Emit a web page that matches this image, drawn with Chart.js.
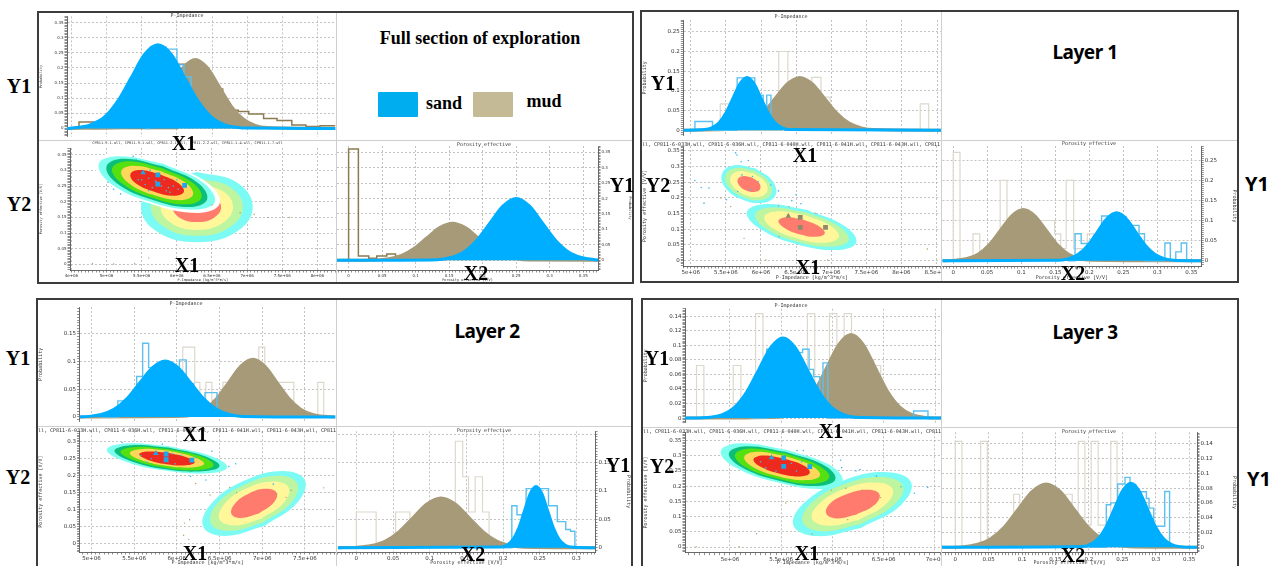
<!DOCTYPE html>
<html>
<head>
<meta charset="utf-8">
<script src="https://cdn.jsdelivr.net/npm/chart.js@4"></script>
<style>
html, body { margin: 0; background: #fff; overflow: hidden; }
#page { position: relative; width: 1274px; height: 566px; overflow: hidden; }
.cell { position: absolute; }
.frame { position: absolute; border: 2px solid #3c3c3c; box-sizing: border-box; }
.rule { position: absolute; background: #cfcfcf; }
.txt { position: absolute; transform: translate(-50%, -50%); white-space: nowrap; color: #000; z-index: 5; }
.serif { font: bold 20px "Liberation Serif", serif; }
.sans { font: bold 20px "Noto Sans", sans-serif; }
.head { font: bold 18px "Liberation Serif", serif; }
.layer { font: bold 19px "Noto Sans", sans-serif; letter-spacing: -0.5px; }
.tiny { font: 5px "DejaVu Sans Mono", monospace; color: #333; z-index: 4; }
.wells { position: absolute; overflow: hidden; white-space: nowrap; text-align: center; color: #333; font: 5px "DejaVu Sans Mono", monospace; z-index: 4; }
.swatch { position: absolute; border-radius: 1px; }
</style>
</head>
<body>
<div id="page"></div>
<script>
// Impedance x values are in units of 1e6, as the tick labels show them

// ---- Full section ----
const fullImpSand = [[4.44,0],[4.58,.003],[4.77,.012],[4.97,.037],[5.16,.09],[5.35,.167],[5.54,.244],[5.73,.276],[5.92,.244],[6.11,.167],[6.3,.09],[6.49,.037],[6.68,.012],[6.87,.003],[7,.001],[8.25,0]];
const fullImpMud = [[4.44,0],[5.24,.003],[5.41,.01],[5.58,.031],[5.75,.074],[5.92,.138],[6.09,.201],[6.26,.228],[6.43,.201],[6.6,.138],[6.77,.074],[6.94,.031],[7.11,.01],[7.28,.003],[8.25,0]];
const fullImpSandBars = [[5.55,0],[5.62,.268],[5.85,.262],[6,.21],[6.1,.17],[6.2,0]];
const fullImpMudBars = [[4.44,0],[4.61,.0215],[4.82,0],[6.01,.212],[6.22,.2],[6.43,.13],[6.65,.06],[6.87,.056],[7.02,.048],[7.23,.033],[7.42,.026],[7.63,.011],[7.83,.0065],[8.03,.009],[8.25,.009]];
const fullPorSand = [[-.0188,0],[.133,.002],[.1525,.009],[.172,.027],[.1915,.065],[.211,.121],[.2305,.176],[.25,.2],[.2695,.176],[.289,.121],[.3085,.065],[.328,.027],[.3475,.009],[.367,.002],[.372,.001]];
const fullPorMud = [[-.0188,0],[.041,.001],[.06,.005],[.079,.016],[.098,.039],[.117,.073],[.136,.106],[.155,.12],[.174,.106],[.193,.073],[.212,.039],[.231,.016],[.25,.005],[.269,.001],[.372,0]];
const fullPorSandBars = [];
const fullPorMudBars = [[-.0188,0],[0,.36],[.0146,.014],[.03,.007],[.042,.014],[.057,.02],[.07,.012],[.085,0]];
const fullSandContours = [
  [[5.81,.321],[6.38,.26],[6.54,.199],[6.25,.175],[5.63,.199],[5.05,.26],[4.89,.321],[5.18,.345]],
  [[5.8,.313],[6.3,.26],[6.43,.207],[6.18,.183],[5.64,.207],[5.14,.26],[5,.313],[5.25,.337]],
  [[5.79,.307],[6.23,.26],[6.35,.213],[6.13,.192],[5.65,.213],[5.21,.26],[5.08,.307],[5.31,.329]],
  [[5.77,.298],[6.13,.26],[6.23,.222],[6.05,.205],[5.66,.222],[5.31,.26],[5.21,.298],[5.39,.315]],
  [[5.76,.288],[6.02,.26],[6.1,.232],[5.96,.219],[5.68,.232],[5.41,.26],[5.34,.288],[5.47,.301]]
];
const fullSandHalo = [[5.81,.326],[6.44,.26],[6.61,.194],[6.3,.164],[5.62,.194],[5,.26],[4.83,.326],[5.14,.356]];
const fullMudContours = [
  [[6.29,.295],[6.85,.262],[7.08,.183],[6.85,.104],[6.29,.071],[5.72,.104],[5.49,.183],[5.72,.262]],
  [[6.29,.275],[6.75,.248],[6.94,.183],[6.75,.118],[6.29,.091],[5.83,.118],[5.63,.183],[5.83,.248]],
  [[6.29,.256],[6.65,.234],[6.8,.183],[6.65,.132],[6.29,.11],[5.92,.132],[5.77,.183],[5.92,.234]],
  [[6.29,.231],[6.53,.217],[6.63,.183],[6.53,.149],[6.29,.135],[6.04,.149],[5.94,.183],[6.04,.217]]
];
const fullSandMarkers = [[5.73,.286],[5.73,.256],[6.11,.252]];
const fullSandTriangles = [[5.52,.293]];
const fullMudMarkers = [];
const fullMudTriangles = [];
const fullSandDots = [[5.38,.345],[5.42,.335],[5.1,.24],[5.2,.225],[5.02,.262],[5.62,.3],[5.45,.27],[5.9,.23],[6.0,.27],[5.5,.27],[5.55,.255],[5.6,.275],[5.65,.245],[5.7,.265],[5.78,.25],[5.82,.27],[5.88,.245],[5.95,.25],[6.02,.24],[5.6,.235],[5.85,.235]];
const fullMudDots = [[6.5,.19],[6.9,.165],[7.1,.16],[7.3,.15],[7.6,.15],[6.2,.001],[5.4,.002],[4.8,.002],[5.6,.02],[5.3,.15],[5.1,.001],[7.0,.02]];

// ---- Layer 1 ----
const layer1ImpSand = [[4.895,0],[5.2,.0015],[5.3,.006],[5.4,.018],[5.5,.0435],[5.6,.081],[5.7,.118],[5.8,.134],[5.9,.118],[6,.081],[6.1,.0435],[6.2,.018],[6.3,.006],[6.4,.0015],[8.555,0]];
const layer1ImpMud = [[4.895,0],[5.5,.0015],[5.675,.006],[5.85,.018],[6.025,.0435],[6.2,.081],[6.375,.118],[6.55,.134],[6.725,.118],[6.9,.081],[7.075,.0435],[7.25,.018],[7.425,.006],[7.6,.0015],[8.555,0]];
const layer1ImpSandBars = [[4.9,0],[5.06,.022],[5.31,0],[5.66,.133],[5.91,.08],[5.99,.089],[6.03,.02],[6.08,.089],[6.14,0]];
const layer1ImpMudBars = [[4.9,0],[5.42,.067],[5.57,0],[6.25,.2],[6.38,.067],[6.72,.134],[6.85,.084],[6.98,0],[8.26,.067],[8.38,0]];
const layer1PorSand = [[-.017,0],[.156,.0013],[.17,.0052],[.184,.016],[.198,.0386],[.212,.072],[.226,.105],[.24,.119],[.254,.105],[.268,.072],[.282,.0386],[.296,.016],[.31,.0052],[.324,.0013],[.3645,0]];
const layer1PorMud = [[-.017,0],[.004,.0014],[.0205,.0056],[.037,.017],[.0535,.041],[.07,.077],[.0865,.112],[.103,.127],[.1195,.112],[.136,.077],[.1525,.041],[.169,.017],[.1855,.0056],[.202,.0014],[.3645,0]];
const layer1PorSandBars = [[.168,0],[.179,.067],[.188,.043],[.197,.02],[.218,.111],[.228,.11],[.254,.088],[.273,.067],[.281,0],[.311,.044],[.319,0],[.327,.022],[.335,.044],[.343,0]];
const layer1PorMudBars = [[-.01,0],[0,.269],[.01,0],[.029,.067],[.039,0],[.069,.2],[.079,.1],[.149,.067],[.158,.03],[.166,.2],[.177,.03],[.197,.067],[.206,0]];
const layer1SandContours = [
  [[5.92,.294],[6.16,.255],[6.21,.209],[6.03,.184],[5.74,.194],[5.49,.233],[5.45,.279],[5.62,.304]],
  [[5.91,.287],[6.11,.253],[6.15,.214],[6,.193],[5.75,.202],[5.54,.235],[5.5,.274],[5.65,.295]],
  [[5.89,.278],[6.06,.251],[6.09,.22],[5.97,.203],[5.77,.21],[5.6,.237],[5.57,.268],[5.69,.285]],
  [[5.87,.265],[5.97,.249],[5.99,.229],[5.92,.219],[5.79,.223],[5.69,.24],[5.67,.259],[5.74,.269]]
];
const layer1MudContours = [
  [[6.65,.162],[7.18,.112],[7.36,.059],[7.09,.034],[6.51,.052],[5.98,.102],[5.8,.155],[6.08,.18]],
  [[6.64,.154],[7.09,.112],[7.25,.066],[7.01,.045],[6.52,.06],[6.07,.102],[5.92,.148],[6.15,.169]],
  [[6.63,.145],[6.99,.111],[7.11,.075],[6.92,.057],[6.54,.069],[6.17,.103],[6.05,.14],[6.24,.157]],
  [[6.61,.13],[6.83,.109],[6.91,.087],[6.79,.076],[6.55,.084],[6.33,.105],[6.25,.127],[6.37,.138]]
];
const layer1SandMarkers = [];
const layer1SandTriangles = [];
const layer1MudMarkers = [[6.56,.138],[6.56,.106],[6.92,.106]];
const layer1MudTriangles = [[6.39,.142]];
const layer1SandDots = [[5.64,.343],[5.66,.336],[5.72,.315],[5.82,.319],[5.06,.255],[5.15,.233],[5.26,.231],[5.19,.183],[5.51,.194],[6.25,.222],[6.44,.191],[6.5,.21],[6.57,.181],[6.14,.241],[5.73,.273],[5.88,.268],[5.96,.252],[5.85,.226],[5.67,.22]];
const layer1MudDots = [[5.43,.199],[5.57,.172],[5.76,.071],[6.26,.077],[6.4,.172],[8.37,.037],[6.07,.002],[6.95,.002],[6.77,.151],[6.25,.174]];

// ---- Layer 2 ----
const layer2ImpSand = [[4.862,0],[4.965,.0011],[5.115,.0044],[5.265,.0137],[5.415,.0328],[5.565,.0613],[5.715,.0891],[5.865,.101],[6.015,.0891],[6.165,.0613],[6.315,.0328],[6.465,.0137],[6.615,.0044],[6.765,.0011],[7.858,0]];
const layer2ImpMud = [[4.862,0],[6.05,.0012],[6.19,.0046],[6.33,.0141],[6.47,.0338],[6.61,.0631],[6.75,.0918],[6.89,.104],[7.03,.0918],[7.17,.0631],[7.31,.0338],[7.45,.0141],[7.59,.0046],[7.73,.0012],[7.858,0]];
const layer2ImpSandBars = [[5.1,0],[5.31,.029],[5.39,.03],[5.53,.073],[5.6,.133],[5.67,.089],[5.82,.08],[6.03,.103],[6.11,.06],[6.2,.03],[6.33,.044],[6.47,0]];
const layer2ImpMudBars = [[5.9,0],[6.07,.126],[6.21,.0625],[6.27,.03],[6.34,.0625],[6.41,.03],[6.54,.0625],[6.96,.126],[7.03,.0625],[7.37,0],[7.65,.0625],[7.72,0]];
const layer2PorSand = [[-.0265,0],[.198,.0012],[.2059,.0047],[.2137,.0146],[.2216,.035],[.2294,.0655],[.2372,.0953],[.245,.108],[.2529,.0953],[.2607,.0655],[.2686,.035],[.2764,.0146],[.2843,.0047],[.292,.0012],[.3254,0]];
const layer2PorMud = [[-.0265,0],[.0015,.001],[.0205,.0039],[.0395,.0119],[.0585,.0285],[.0775,.0532],[.0965,.0774],[.1155,.0877],[.1345,.0774],[.1535,.0532],[.1725,.0285],[.1915,.0119],[.2105,.0039],[.2295,.001],[.3254,0]];
const layer2PorSandBars = [[.2,0],[.212,.074],[.219,.058],[.2315,.104],[.256,.104],[.262,.074],[.274,.046],[.2855,.032],[.292,.029],[.298,0]];
const layer2PorMudBars = [[-.01,0],[0,.0629],[.027,0],[.0536,.0629],[.073,.03],[.135,.1875],[.145,.125],[.153,.0629],[.162,.125],[.172,.0629],[.181,0]];
const layer2SandContours = [
  [[5.91,.287],[6.4,.258],[6.59,.225],[6.37,.207],[5.86,.215],[5.37,.244],[5.18,.277],[5.4,.295]],
  [[5.9,.283],[6.33,.257],[6.5,.228],[6.3,.213],[5.87,.219],[5.44,.245],[5.27,.274],[5.47,.29]],
  [[5.9,.279],[6.28,.257],[6.43,.231],[6.26,.217],[5.87,.223],[5.49,.246],[5.34,.271],[5.51,.285]],
  [[5.9,.274],[6.2,.255],[6.32,.235],[6.18,.224],[5.87,.229],[5.57,.247],[5.45,.267],[5.59,.279]],
  [[5.9,.268],[6.12,.254],[6.21,.239],[6.11,.231],[5.88,.234],[5.65,.248],[5.56,.263],[5.66,.271]]
];
const layer2MudContours = [
  [[7.03,.052],[7.41,.12],[7.5,.187],[7.24,.214],[6.78,.184],[6.4,.116],[6.31,.049],[6.57,.022]],
  [[7.01,.062],[7.34,.12],[7.41,.177],[7.19,.2],[6.8,.174],[6.47,.116],[6.4,.059],[6.62,.037]],
  [[6.99,.073],[7.25,.119],[7.31,.165],[7.13,.183],[6.82,.163],[6.56,.117],[6.5,.071],[6.68,.053]],
  [[6.96,.088],[7.13,.119],[7.17,.149],[7.05,.161],[6.85,.148],[6.68,.117],[6.64,.087],[6.75,.075]]
];
const layer2SandMarkers = [[5.875,.264],[5.875,.247],[6.176,.246]];
const layer2SandTriangles = [[5.755,.266]];
const layer2MudMarkers = [];
const layer2MudTriangles = [];
const layer2SandDots = [[5.36,.298],[5.83,.293],[6.41,.272],[6.69,.235],[6.34,.187],[6.61,.227],[6.16,.198],[7.13,.175],[5.58,.259],[5.98,.235],[6.22,.254],[5.7,.25],[5.65,.24],[5.95,.265],[6.05,.26]];
const layer2MudDots = [[6.22,.177],[6.39,.143],[6.62,.165],[6.7,.15],[6.15,.07],[6.09,.06],[6.08,.024],[6.14,.012],[7.72,.164],[7.34,.157],[7.28,.136],[7.17,.146],[6.99,.143]];

// ---- Layer 3 ----
const layer3ImpSand = [[4.562,0],[4.81,.0012],[4.927,.0049],[5.045,.0149],[5.163,.0357],[5.281,.0667],[5.399,.0971],[5.517,.11],[5.635,.0971],[5.753,.0667],[5.871,.0357],[5.989,.0149],[6.107,.0049],[6.225,.0012],[7.057,0]];
const layer3ImpMud = [[4.562,0],[5.472,.0013],[5.59,.0051],[5.708,.0156],[5.826,.0373],[5.944,.0697],[6.062,.1015],[6.18,.115],[6.298,.1015],[6.416,.0697],[6.534,.0373],[6.652,.0156],[6.77,.0051],[6.888,.0013],[7.057,0]];
const layer3ImpSandBars = [[5.2,0],[5.358,.0946],[5.45,.09],[5.708,.0946],[5.771,.067],[5.815,.057],[5.875,.03],[5.907,.076],[5.954,0],[6.79,.0098],[6.93,0]];
const layer3ImpMudBars = [[4.6,0],[4.674,.0723],[4.746,0],[5.032,.0723],[5.107,0],[5.25,.1437],[5.322,.03],[5.755,.1437],[5.827,.03],[5.97,.1437],[6.042,.07],[6.113,.1437],[6.185,.08],[6.4,.0723],[6.47,0]];
const layer3PorSand = [[-.0208,0],[.1892,.001],[.2015,.0038],[.2137,.0117],[.226,.028],[.2382,.0524],[.2505,.0763],[.2627,.0864],[.275,.0763],[.2872,.0524],[.2995,.028],[.3117,.0117],[.324,.0038],[.3362,.001],[.3617,0]];
const layer3PorMud = [[-.0208,0],[.0115,.0009],[.0323,.0038],[.053,.0116],[.0738,.0278],[.0945,.0519],[.1153,.0755],[.136,.0855],[.1568,.0755],[.1775,.0519],[.1983,.0278],[.219,.0116],[.2398,.0038],[.2605,.0009],[.3617,0]];
const layer3PorSandBars = [[.2,0],[.226,.0575],[.2327,.06],[.243,.0855],[.254,.0944],[.2615,.085],[.27,.075],[.286,.066],[.29,.053],[.297,.0285],[.3134,.0753],[.3207,0]];
const layer3PorMudBars = [[-.01,0],[0,.143],[.01,0],[.038,.143],[.048,0],[.0874,.0717],[.0965,.04],[.165,.0717],[.175,.04],[.184,.143],[.194,.03],[.2034,.143],[.2138,.03],[.2327,.143],[.242,0]];
const layer3SandContours = [
  [[5.55,.32],[5.97,.27],[6.1,.217],[5.91,.191],[5.47,.212],[5.05,.262],[4.91,.315],[5.1,.341]],
  [[5.54,.313],[5.91,.27],[6.03,.224],[5.86,.201],[5.47,.219],[5.11,.263],[4.99,.308],[5.16,.331]],
  [[5.54,.308],[5.86,.269],[5.97,.229],[5.82,.208],[5.48,.224],[5.15,.263],[5.05,.304],[5.2,.324]],
  [[5.53,.3],[5.79,.269],[5.88,.236],[5.76,.22],[5.48,.232],[5.22,.264],[5.14,.296],[5.26,.313]],
  [[5.53,.291],[5.72,.268],[5.78,.244],[5.69,.232],[5.49,.241],[5.3,.264],[5.23,.288],[5.32,.301]]
];
const layer3MudContours = [
  [[6.28,.063],[6.66,.135],[6.77,.211],[6.54,.246],[6.11,.219],[5.73,.147],[5.62,.071],[5.85,.036]],
  [[6.27,.075],[6.59,.136],[6.69,.2],[6.49,.23],[6.12,.207],[5.8,.146],[5.71,.082],[5.9,.052]],
  [[6.25,.088],[6.51,.137],[6.59,.189],[6.43,.212],[6.14,.194],[5.88,.145],[5.8,.094],[5.96,.07]],
  [[6.23,.106],[6.41,.138],[6.46,.173],[6.35,.188],[6.16,.176],[5.98,.144],[5.94,.11],[6.04,.094]]
];
const layer3SandMarkers = [[5.525,.293],[5.525,.265],[5.78,.264]];
const layer3SandTriangles = [[5.406,.294]];
const layer3MudMarkers = [];
const layer3MudTriangles = [];
const layer3SandDots = [[5.656,.317],[5.716,.317],[6.08,.285],[6.09,.261],[6.23,.25],[6.27,.255],[6.43,.233],[6.8,.177],[6.93,.196],[6.67,.198],[5.3,.28],[5.35,.26],[5.45,.25],[5.6,.275],[5.65,.25],[5.7,.28]];
const layer3MudDots = [[4.67,.001],[5.09,.001],[5.26,.044],[5.545,.145],[5.8,.043],[6.15,.09],[5.99,.187],[6.29,.187],[6.13,.193],[6.47,.1625],[5.755,.209]];

// Tick labels
const fullImpTicks = ['4e+06','5e+06','5.5e+06','6e+06','6.5e+06','7e+06','7.5e+06','8e+06'];
const layer1ImpTicks = ['5e+06','5.5e+06','6e+06','6.5e+06','7e+06','7.5e+06','8e+06','8.5e+06'];
const layer2ImpTicks = ['5e+06','5.5e+06','6e+06','6.5e+06','7e+06','7.5e+06'];
const layer3ImpTicks = ['5e+06','5.5e+06','6e+06','6.5e+06','7e+06'];
const por35Ticks = ['0','0.05','0.1','0.15','0.2','0.25','0.3','0.35'];
const por30Ticks = ['0','0.05','0.1','0.15','0.2','0.25','0.3'];
const prob25Ticks = ['0','0.05','0.1','0.15','0.2','0.25'];
const prob15Ticks = ['0','0.05','0.1','0.15'];
const prob14Ticks = ['0','0.02','0.04','0.06','0.08','0.1','0.12','0.14'];

const impTitle = 'P-Impedance [kg/m^3*m/s]';
const porTitle = 'Porosity effective [V/V]';
const probTitle = 'Probability';
const oldWells = 'CP811-9-1.wll, CP811-9-1.wll, CP811-2-1.wll, CP811-2-2.wll, CP811-1-4.wll, CP811-1-7.wll';
const newWells = 'll, CP811-6-033H.wll, CP811-6-036H.wll, CP811-6-040H.wll, CP811-6-041H.wll, CP811-6-043H.wll, CP811-6-044H.wll, C';

const SAND = '#00aeff', MUD = '#a69a78';
const SAND_LEVELS = ['#7ffff0', '#0bbf7a', '#55e010', '#ffd75a', '#ee2a1e'];
const MUD_LEVELS = ['#7cfbf5', '#bdf5a0', '#fff79a', '#ff7b6e'];

const page = document.getElementById('page');

function addText(text, x, y, cls) {
    const el = document.createElement('div');
    el.className = 'txt ' + cls;
    el.textContent = text;
    el.style.left = x + 'px';
    el.style.top = y + 'px';
    page.appendChild(el);
}

function addBox(cls, x, y, w, h, color) {
    const el = document.createElement('div');
    el.className = cls;
    el.style.cssText = `left:${x}px;top:${y}px;width:${w}px;height:${h}px;` + (color ? `background:${color};` : '');
    page.appendChild(el);
    return el;
}

function addWells(text, x, w, y, size) {
    const el = addBox('wells', x, y, w, 7);
    el.style.fontSize = size + 'px';
    el.textContent = text;
}

function axisOpts(ax, edge, fixed, fontSize) {
    const isMajor = v => Math.abs(v / ax.major - Math.round(v / ax.major)) < 1e-6;
    const first = Math.ceil(ax.min / ax.major - 1e-6);
    return {
        type: 'linear',
        position: edge,
        min: ax.min,
        max: ax.max,
        afterFit: s => {
            if (edge === 'top' || edge === 'bottom') s.height = fixed;
            else s.width = fixed;
        },
        title: ax.title
            ? { display: true, text: ax.title, color: '#333', padding: 0, font: { size: fontSize - 0.5, family: 'DejaVu Sans Mono' } }
            : { display: false },
        grid: {
            drawOnChartArea: true,
            drawTicks: !ax.hideTicks,
            tickLength: 2.5,
            tickColor: '#444',
            tickWidth: 0.6,
            lineWidth: 0.7,
            color: c => (c.tick && isMajor(c.tick.value) ? '#a8a8a8' : 'rgba(0,0,0,0)')
        },
        border: { display: !ax.hideTicks, color: '#444', width: 0.8, dash: [2, 2] },
        ticks: {
            display: !ax.hideTicks,
            stepSize: ax.major / 10,
            includeBounds: false,
            autoSkip: false,
            maxRotation: 0,
            padding: 1,
            color: '#333',
            font: { size: fontSize, family: 'DejaVu Sans' },
            callback: v => {
                if (!isMajor(v) || !ax.labels) return '';
                return ax.labels[Math.round(v / ax.major) - first] ?? '';
            }
        }
    };
}

// cell = canvas box on the page, plot = chart area on the page, both [left, top, right, bottom]
function addChart(cell, plot, xAxis, yAxis, yEdge, datasets, fontSize) {
    const wrap = addBox('cell', cell[0], cell[1], cell[2] - cell[0], cell[3] - cell[1]);
    const canvas = document.createElement('canvas');
    canvas.width = cell[2] - cell[0];
    canvas.height = cell[3] - cell[1];
    canvas.style.display = 'block';
    wrap.appendChild(canvas);
    const left = plot[0] - cell[0], right = cell[2] - plot[2];
    new Chart(canvas, {
        type: 'scatter',
        data: { datasets },
        options: {
            responsive: false,
            animation: false,
            events: [],
            layout: {
                autoPadding: false,
                padding: {
                    top: plot[1] - cell[1],
                    left: yEdge === 'right' ? left : 0,
                    right: yEdge === 'left' ? right : 0,
                    bottom: 0
                }
            },
            plugins: { legend: { display: false }, tooltip: { enabled: false } },
            scales: {
                x: axisOpts(xAxis, 'bottom', cell[3] - plot[3], fontSize),
                y: axisOpts(yAxis, yEdge, yEdge === 'left' ? left : right, fontSize)
            }
        }
    });
}

function curve(data, color) {
    return { data, showLine: true, fill: 'origin', backgroundColor: color, borderColor: color, borderWidth: 3, pointRadius: 0, cubicInterpolationMode: 'monotone' };
}

function bars(data, color, width) {
    return { data, showLine: true, stepped: true, fill: false, borderColor: color, borderWidth: width, pointRadius: 0 };
}

function contour(points, color) {
    return { data: points.concat([points[0]]), showLine: true, fill: 'shape', backgroundColor: color, borderWidth: 0, borderColor: color, tension: 0.42, pointRadius: 0 };
}

function marks(data, color, style, radius) {
    return { data, showLine: false, pointStyle: style, pointRadius: radius, backgroundColor: color, borderWidth: 0 };
}

// First dataset in the list ends up on top
function histSets(sand, sandBars, mud, mudBars, mudBarColor, mudBarWidth) {
    return [curve(sand, SAND), bars(sandBars, '#5cc0f0', 1.4), curve(mud, MUD), bars(mudBars, mudBarColor, mudBarWidth)];
}

function crossSets(p) {
    const list = [
        marks(p.sandMarkers, '#1ea7e8', 'rect', 3.4),
        marks(p.sandTriangles, '#1ea7e8', 'triangle', 3.2),
        marks(p.mudMarkers, '#8f8a6c', 'rect', 3.4),
        marks(p.mudTriangles, '#8f8a6c', 'triangle', 3.2),
        marks(p.sandDots, '#3fb8ef', 'circle', 0.8),
        marks(p.mudDots, '#b09a60', 'circle', 0.7)
    ];
    const levels = p.sandContours.length === 4 ? MUD_LEVELS : SAND_LEVELS;
    p.sandContours.slice().reverse().forEach((c, i) => list.push(contour(c, levels[levels.length - 1 - i])));
    if (p.halo) list.push(contour(p.halo, '#ffffff'));
    p.mudContours.slice().reverse().forEach((c, i) => list.push(contour(c, MUD_LEVELS[MUD_LEVELS.length - 1 - i])));
    return list;
}

// Full section
addBox('frame', 37, 11, 597, 273);
addBox('rule', 39, 140, 593, 1);
addBox('rule', 336, 13, 1, 269);
addChart([39, 13, 336, 140], [67, 16, 335.5, 139],
    { min: 4.44, max: 8.25, major: 0.5, hideTicks: true },
    { min: -0.027, max: 0.37, major: 0.05, labels: ['0','0.05','0.1','0.15','0.2','0.25','0.3','0.35'], title: probTitle }, 'left',
    histSets(fullImpSand, fullImpSandBars, fullImpMud, fullImpMudBars, '#8c7b50', 1.5), 4);
addChart([39, 141, 336, 282], [70, 148, 336, 270],
    { min: 4.48, max: 8.26, major: 0.5, labels: fullImpTicks, title: impTitle },
    { min: -0.018, max: 0.3716, major: 0.05, labels: por35Ticks, title: porTitle }, 'left',
    crossSets({ sandContours: fullSandContours, halo: fullSandHalo, mudContours: fullMudContours, sandMarkers: fullSandMarkers, sandTriangles: fullSandTriangles, mudMarkers: fullMudMarkers, mudTriangles: fullMudTriangles, sandDots: fullSandDots, mudDots: fullMudDots }), 4);
addChart([337, 141, 632, 282], [337, 146, 598, 270],
    { min: -0.0173, max: 0.372, major: 0.05, labels: por35Ticks, title: porTitle },
    { min: -0.0314, max: 0.37, major: 0.05, labels: por35Ticks, title: probTitle }, 'right',
    histSets(fullPorSand, fullPorSandBars, fullPorMud, fullPorMudBars, '#8c7b50', 1.5), 4);

// Layer 1
addBox('frame', 640, 10, 599, 273);
addBox('rule', 642, 140, 595, 1);
addBox('rule', 941, 12, 1, 269);
addChart([642, 12, 941, 140], [683.3, 20, 941, 139],
    { min: 4.895, max: 8.555, major: 0.5, hideTicks: true },
    { min: -0.014, max: 0.28, major: 0.05, labels: prob25Ticks, title: probTitle }, 'left',
    histSets(layer1ImpSand, layer1ImpSandBars, layer1ImpMud, layer1ImpMudBars, '#ddd8cc', 1.2), 5.5);
addChart([642, 141, 941, 281], [683.3, 146, 941, 266],
    { min: 4.895, max: 8.555, major: 0.5, labels: layer1ImpTicks, title: impTitle },
    { min: -0.017, max: 0.365, major: 0.05, labels: por35Ticks, title: porTitle }, 'left',
    crossSets({ sandContours: layer1SandContours, mudContours: layer1MudContours, sandMarkers: layer1SandMarkers, sandTriangles: layer1SandTriangles, mudMarkers: layer1MudMarkers, mudTriangles: layer1MudTriangles, sandDots: layer1SandDots, mudDots: layer1MudDots }), 5.5);
addChart([942, 141, 1237, 281], [942, 146, 1201.3, 266],
    { min: -0.0157, max: 0.3645, major: 0.05, labels: por35Ticks, title: porTitle },
    { min: -0.013, max: 0.285, major: 0.05, labels: prob25Ticks, title: probTitle }, 'right',
    histSets(layer1PorSand, layer1PorSandBars, layer1PorMud, layer1PorMudBars, '#ddd8cc', 1.2), 5.5);

// Layer 2
addBox('frame', 36, 298, 597, 290);
addBox('rule', 38, 426, 593, 1);
addBox('rule', 336, 300, 1, 266);
addChart([38, 300, 336, 426], [79.6, 307, 335.5, 425],
    { min: 4.862, max: 7.858, major: 0.5, hideTicks: true },
    { min: -0.0085, max: 0.1985, major: 0.05, labels: prob15Ticks, title: probTitle }, 'left',
    histSets(layer2ImpSand, layer2ImpSandBars, layer2ImpMud, layer2ImpMudBars, '#ddd8cc', 1.2), 5.5);
addChart([38, 427, 336, 566], [79.6, 430, 335.5, 552],
    { min: 4.862, max: 7.858, major: 0.5, labels: layer2ImpTicks, title: impTitle },
    { min: -0.0254, max: 0.331, major: 0.05, labels: por30Ticks, title: porTitle }, 'left',
    crossSets({ sandContours: layer2SandContours, mudContours: layer2MudContours, sandMarkers: layer2SandMarkers, sandTriangles: layer2SandTriangles, mudMarkers: layer2MudMarkers, mudTriangles: layer2MudTriangles, sandDots: layer2SandDots, mudDots: layer2MudDots }), 5.5);
addChart([337, 427, 631, 566], [337, 430, 595, 552],
    { min: -0.0251, max: 0.3254, major: 0.05, labels: por30Ticks, title: porTitle },
    { min: -0.0075, max: 0.205, major: 0.05, labels: prob15Ticks, title: probTitle }, 'right',
    histSets(layer2PorSand, layer2PorSandBars, layer2PorMud, layer2PorMudBars, '#ddd8cc', 1.2), 5.5);

// Layer 3
addBox('frame', 641, 298, 598, 290);
addBox('rule', 643, 427, 594, 1);
addBox('rule', 941, 300, 1, 266);
addChart([643, 300, 941, 427], [685, 308.7, 941, 426],
    { min: 4.562, max: 7.057, major: 0.5, hideTicks: true },
    { min: -0.0063, max: 0.1504, major: 0.02, labels: prob14Ticks, title: probTitle }, 'left',
    histSets(layer3ImpSand, layer3ImpSandBars, layer3ImpMud, layer3ImpMudBars, '#ddd8cc', 1.2), 5.5);
addChart([643, 428, 941, 566], [685, 431, 941, 552.7],
    { min: 4.562, max: 7.057, major: 0.5, labels: layer3ImpTicks, title: impTitle },
    { min: -0.0185, max: 0.377, major: 0.05, labels: por35Ticks, title: porTitle }, 'left',
    crossSets({ sandContours: layer3SandContours, mudContours: layer3MudContours, sandMarkers: layer3SandMarkers, sandTriangles: layer3SandTriangles, mudMarkers: layer3MudMarkers, mudTriangles: layer3MudTriangles, sandDots: layer3SandDots, mudDots: layer3MudDots }), 5.5);
addChart([942, 428, 1237, 566], [942, 431, 1197, 552.7],
    { min: -0.0198, max: 0.3617, major: 0.05, labels: por35Ticks, title: porTitle },
    { min: -0.0072, max: 0.1553, major: 0.02, labels: prob14Ticks, title: probTitle }, 'right',
    histSets(layer3PorSand, layer3PorSandBars, layer3PorMud, layer3PorMudBars, '#ddd8cc', 1.2), 5.5);

// Small chart titles
[[187, 15, 'P-Impedance'], [484, 144, 'Porosity effective'], [791, 16, 'P-Impedance'], [1089, 143, 'Porosity effective'],
 [186, 303, 'P-Impedance'], [484, 430, 'Porosity effective'], [791, 305, 'P-Impedance'], [1089, 431, 'Porosity effective']]
    .forEach(t => addText(t[2], t[0], t[1], 'tiny'));
addWells(oldWells, 39, 297, 141, 3.6);
addWells(newWells, 642, 299, 140.5, 5);
addWells(newWells, 38, 298, 427, 5);
addWells(newWells, 643, 298, 428, 5);

// Panel headings and legend
addText('Full section of exploration', 480, 38, 'head');
addText('Layer 1', 1085, 52, 'layer');
addText('Layer 2', 487, 331, 'layer');
addText('Layer 3', 1085, 332, 'layer');
addBox('swatch', 378, 92, 40, 25, '#00aeef');
addBox('swatch', 473, 92, 40, 25, '#c4ba95');
addText('sand', 444, 103, 'head');
addText('mud', 544, 101, 'head');

// Axis callouts
[['Y1', 19, 86], ['X1', 184, 143], ['Y2', 19, 204], ['X1', 187, 265], ['Y1', 622, 185], ['X2', 476, 273],
 ['Y1', 663, 83], ['Y2', 658, 185], ['X1', 805, 155], ['X1', 808, 267], ['X2', 1073, 273],
 ['Y1', 18, 358], ['X1', 195, 434], ['Y2', 18, 477], ['X1', 195, 553], ['Y1', 618, 465], ['X2', 473, 554],
 ['Y1', 657, 358], ['X1', 831, 431], ['Y2', 662, 466], ['X1', 807, 553], ['X2', 1073, 555]]
    .forEach(t => addText(t[0], t[1], t[2], 'serif'));
addText('Y1', 1257, 183, 'sans');
addText('Y1', 1259, 478, 'sans');
</script>
</body>
</html>
